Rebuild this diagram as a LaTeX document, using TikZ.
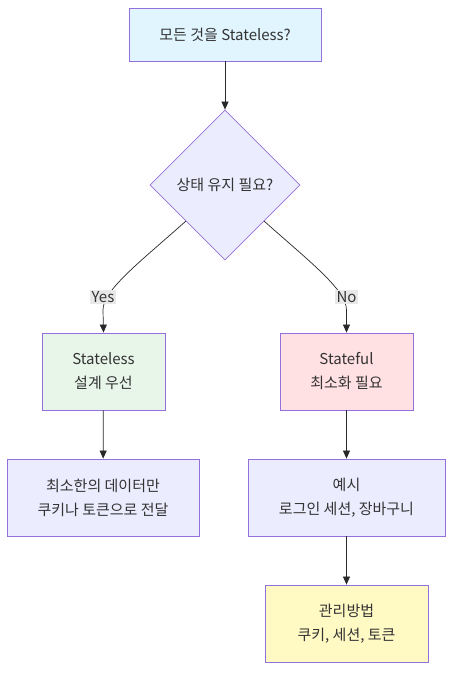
\documentclass[tikz,border=0pt]{standalone}
\usepackage{fontspec}
\setmainfont{Noto Sans CJK KR}
\usetikzlibrary{shapes.geometric,arrows.meta}
\definecolor{bord}{HTML}{9370DB}
\definecolor{cblue}{HTML}{E1F5FE}
\definecolor{cdia}{HTML}{ECECFF}
\definecolor{cgreen}{HTML}{E8F5E9}
\definecolor{cred}{HTML}{FFE0E3}
\definecolor{cyel}{HTML}{FFF9C4}
\definecolor{txt}{HTML}{333333}
\definecolor{lbl}{HTML}{E8E8E8}
\begin{document}
\begin{tikzpicture}[x=1pt,y=-1pt,
  box/.style={draw=bord,line width=0.8pt,rectangle,align=center,text=txt,font=\fontsize{15}{24}\selectfont,inner sep=0pt},
  arr/.style={draw=txt!80!black,line width=0.7pt,-{Triangle[length=8pt,width=7pt]}},
  elabel/.style={fill=lbl,text=txt,font=\fontsize{15}{17}\selectfont,inner sep=1.5pt}]
\useasboundingbox (0,0) rectangle (461,681);
\node[box,fill=cblue,minimum width=192pt,minimum height=53pt] (top) at (225,34.5) {모든 것을 Stateless?};
\node[draw=bord,line width=0.8pt,fill=cdia,diamond,aspect=1,minimum width=150pt,minimum height=150pt,inner sep=0pt] (dia) at (225,185) {};
\node[text=txt,font=\fontsize{15}{17}\selectfont] (diat) at (225,185) {상태 유지 필요?};
\node[box,fill=cgreen,minimum width=123pt,minimum height=77pt] (sl) at (103.5,371.5) {Stateless\\설계 우선};
\node[box,fill=cred,minimum width=133pt,minimum height=77pt] (sf) at (346.5,371.5) {Stateful\\최소화 필요};
\node[box,fill=cdia,minimum width=192pt,minimum height=77pt] (min) at (103,497.5) {최소한의 데이터만\\쿠키나 토큰으로 전달};
\node[box,fill=cdia,minimum width=197pt,minimum height=77pt] (ex) at (346.5,497.5) {예시\\로그인 세션, 장바구니};
\node[box,fill=cyel,minimum width=163pt,minimum height=77pt] (mg) at (346.5,623.5) {관리방법\\쿠키, 세션, 토큰};
\draw[arr] (top) -- (dia.north);
\draw[arr] (186,221) .. controls (140,262) and (103,290) .. (103,310) -- (sl.north);
\draw[arr] (264,221) .. controls (310,262) and (346.5,290) .. (346.5,310) -- (sf.north);
\node[elabel] (yes) at (103,297) {Yes};
\node[elabel] (no) at (346.5,297) {No};
\draw[arr] (sl) -- (min);
\draw[arr] (sf) -- (ex);
\draw[arr] (ex) -- (mg);
\end{tikzpicture}
\end{document}
